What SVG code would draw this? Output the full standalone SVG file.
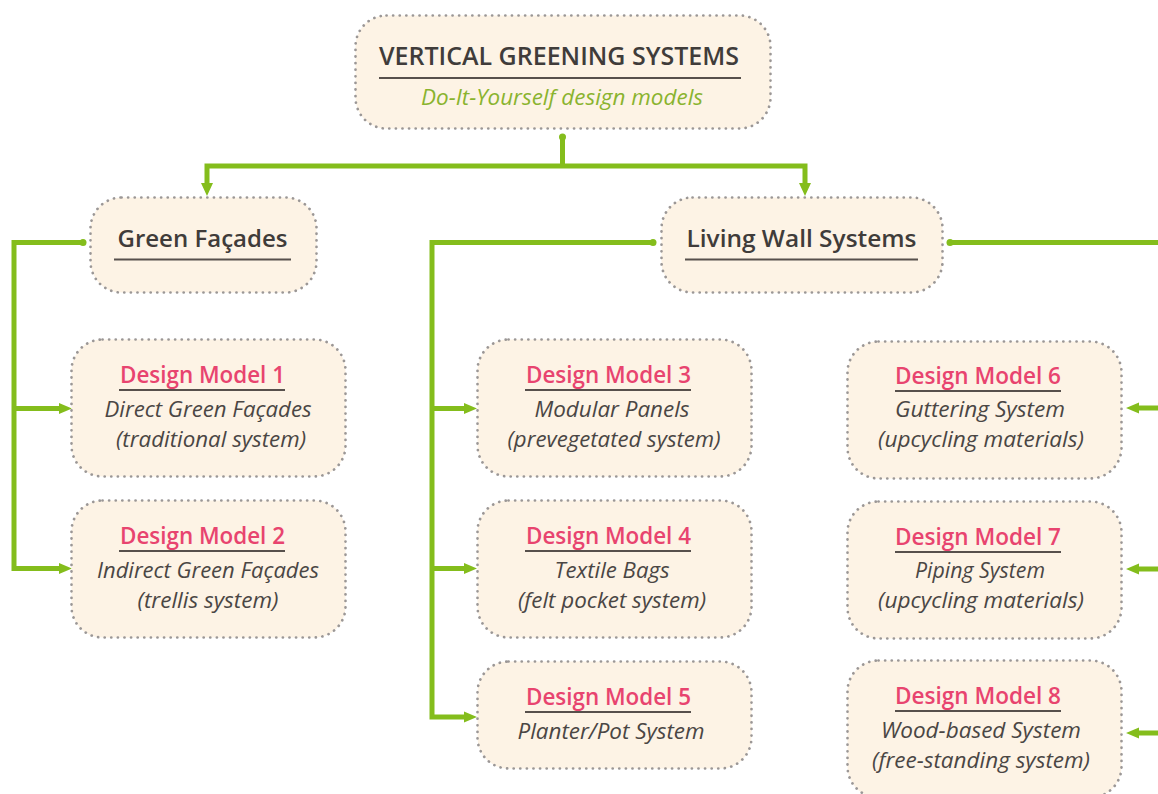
<svg xmlns="http://www.w3.org/2000/svg" width="1158" height="794" viewBox="0 0 1158 794">
<style>
text{font-family:"Open Sans","Noto Sans","Liberation Sans",sans-serif;text-anchor:middle}
.box{fill:#fdf3e5;stroke:#9b9796;stroke-width:2.7;stroke-dasharray:0.1 6.5;stroke-linecap:round}
.rule{stroke:#57504c;stroke-width:2}
.h{font-weight:600;fill:#403c3a;font-size:24px}
.dm{font-weight:600;fill:#e8446f;font-size:22.5px}
.d{font-style:italic;fill:#4a4644;font-size:22px}
.sub{font-style:italic;fill:#8ab32f;font-size:22.5px}
.c{fill:none;stroke:#84bd1c;stroke-width:5}
.a{fill:#84bd1c}
</style>
<g id="connectors">
<path class="c" d="M562.500 137V166M207 186V166H805V186"/>
<circle class="a" cx="562.500" cy="137" r="3.500"/>
<path class="a" d="M201 183H213L207 196ZM799 183H811L805 196Z"/>
<path class="c" d="M83 242.500H14V568.500H62M14 408.500H62"/>
<circle class="a" cx="83" cy="242.500" r="3.500"/>
<path class="a" d="M59 403L72 408.500L59 414ZM59 563L72 568.500L59 574Z"/>
<path class="c" d="M653 242.500H432V717H466M432 408.500H466M432 568.500H466"/>
<circle class="a" cx="653" cy="242.500" r="3.500"/>
<path class="a" d="M464 403L477 408.500L464 414ZM464 563L477 568.500L464 574ZM464 711.500L477 717L464 722.500Z"/>
<path class="c" d="M950 242.500H1158"/>
<circle class="a" cx="950" cy="242.500" r="3.500"/>
<path class="c" d="M1158 408H1135M1158 569H1135M1158 733H1135"/>
<path class="a" d="M1139 402.500L1126 408L1139 413.500ZM1139 563.500L1126 569L1139 574.500ZM1139 727.500L1126 733L1139 738.500Z"/>
</g>
<g id="root">
<rect class="box" x="355.500" y="15.500" width="415" height="113" rx="31"/>
<text class="h" x="559" y="65" textLength="360" lengthAdjust="spacingAndGlyphs" style="font-size:25px">VERTICAL GREENING SYSTEMS</text>
<line class="rule" x1="379" y1="78" x2="741" y2="78"/>
<text class="sub" x="562" y="105" textLength="282" lengthAdjust="spacingAndGlyphs">Do-It-Yourself design models</text>
</g>
<g id="green-facades">
<rect class="box" x="90.500" y="197.500" width="226" height="95" rx="31"/>
<text class="h" x="202.500" y="247" textLength="170" lengthAdjust="spacingAndGlyphs">Green Façades</text>
<line class="rule" x1="114" y1="259.500" x2="291" y2="259.500"/>
</g>
<g id="living-wall-systems">
<rect class="box" x="661.500" y="197.500" width="281" height="95" rx="31"/>
<text class="h" x="801.500" y="247" textLength="230" lengthAdjust="spacingAndGlyphs">Living Wall Systems</text>
<line class="rule" x1="685" y1="259.500" x2="918" y2="259.500"/>
</g>
<g id="design-model-1">
<rect class="box" x="71.500" y="339.500" width="274" height="137" rx="31"/>
<text class="dm" x="202.500" y="383" textLength="165" lengthAdjust="spacingAndGlyphs">Design Model 1</text>
<line class="rule" x1="119" y1="390" x2="285" y2="390"/>
<text class="d" x="208" y="417" textLength="207" lengthAdjust="spacingAndGlyphs">Direct Green Façades</text>
<text class="d" x="211" y="447" textLength="190" lengthAdjust="spacingAndGlyphs">(traditional system)</text>
</g>
<g id="design-model-2">
<rect class="box" x="71.500" y="500.500" width="274" height="137" rx="31"/>
<text class="dm" x="202.500" y="544" textLength="165" lengthAdjust="spacingAndGlyphs">Design Model 2</text>
<line class="rule" x1="119" y1="551" x2="285" y2="551"/>
<text class="d" x="208" y="578" textLength="222" lengthAdjust="spacingAndGlyphs">Indirect Green Façades</text>
<text class="d" x="208" y="608" textLength="141" lengthAdjust="spacingAndGlyphs">(trellis system)</text>
</g>
<g id="design-model-3">
<rect class="box" x="477.500" y="339.500" width="274" height="137" rx="31"/>
<text class="dm" x="608.500" y="383" textLength="165" lengthAdjust="spacingAndGlyphs">Design Model 3</text>
<line class="rule" x1="525" y1="390" x2="691" y2="390"/>
<text class="d" x="612" y="417" textLength="155" lengthAdjust="spacingAndGlyphs">Modular Panels</text>
<text class="d" x="614" y="447" textLength="213" lengthAdjust="spacingAndGlyphs">(prevegetated system)</text>
</g>
<g id="design-model-4">
<rect class="box" x="477.500" y="500.500" width="274" height="137" rx="31"/>
<text class="dm" x="608.500" y="544" textLength="165" lengthAdjust="spacingAndGlyphs">Design Model 4</text>
<line class="rule" x1="525" y1="551" x2="691" y2="551"/>
<text class="d" x="612" y="578" textLength="115" lengthAdjust="spacingAndGlyphs">Textile Bags</text>
<text class="d" x="612" y="608" textLength="188" lengthAdjust="spacingAndGlyphs">(felt pocket system)</text>
</g>
<g id="design-model-5">
<rect class="box" x="477.500" y="661.500" width="274" height="107" rx="31"/>
<text class="dm" x="608.500" y="705" textLength="165" lengthAdjust="spacingAndGlyphs">Design Model 5</text>
<line class="rule" x1="525" y1="712" x2="691" y2="712"/>
<text class="d" x="611" y="739" textLength="187" lengthAdjust="spacingAndGlyphs">Planter/Pot System</text>
</g>
<g id="design-model-6">
<rect class="box" x="847.500" y="341.500" width="274" height="137" rx="31"/>
<text class="dm" x="978" y="384" textLength="166" lengthAdjust="spacingAndGlyphs">Design Model 6</text>
<line class="rule" x1="895" y1="391" x2="1061" y2="391"/>
<text class="d" x="980" y="417" textLength="170" lengthAdjust="spacingAndGlyphs">Guttering System</text>
<text class="d" x="981" y="447" textLength="206" lengthAdjust="spacingAndGlyphs">(upcycling materials)</text>
</g>
<g id="design-model-7">
<rect class="box" x="847.500" y="501.500" width="274" height="137" rx="31"/>
<text class="dm" x="978" y="545" textLength="166" lengthAdjust="spacingAndGlyphs">Design Model 7</text>
<line class="rule" x1="895" y1="552" x2="1061" y2="552"/>
<text class="d" x="980" y="578" textLength="130" lengthAdjust="spacingAndGlyphs">Piping System</text>
<text class="d" x="981" y="608" textLength="206" lengthAdjust="spacingAndGlyphs">(upcycling materials)</text>
</g>
<g id="design-model-8">
<rect class="box" x="847.500" y="660.500" width="274" height="137" rx="31"/>
<text class="dm" x="978" y="704" textLength="166" lengthAdjust="spacingAndGlyphs">Design Model 8</text>
<line class="rule" x1="895" y1="711" x2="1061" y2="711"/>
<text class="d" x="981" y="738" textLength="200" lengthAdjust="spacingAndGlyphs">Wood-based System</text>
<text class="d" x="981" y="768" textLength="218" lengthAdjust="spacingAndGlyphs">(free-standing system)</text>
</g>
</svg>
